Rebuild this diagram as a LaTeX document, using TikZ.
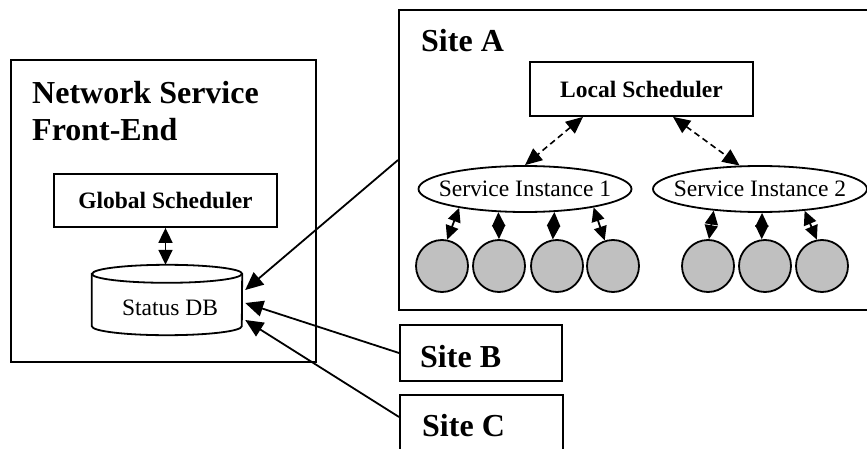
\documentclass[tikz,border=0pt]{standalone}
\usepackage{fontspec}
\setmainfont{Liberation Serif}
\usetikzlibrary{arrows.meta,shapes.geometric,calc}

\definecolor{workergray}{RGB}{192,192,192}

\tikzset{
  frame/.style={draw, line width=1.9pt, inner sep=0pt},
  bigtitle/.style={font=\fontsize{32}{37}\selectfont\bfseries, inner sep=0pt},
  schedbox/.style={draw, line width=1.8pt, inner sep=0pt, minimum width=223pt,
    minimum height=53pt, font=\fontsize{23.5}{28}\selectfont\bfseries},
  instance/.style={draw, ellipse, line width=1.8pt, inner sep=0pt, minimum height=46pt,
    font=\fontsize{23.5}{28}\selectfont},
  worker/.style={draw, circle, line width=1.8pt, fill=workergray, minimum size=52pt, inner sep=0pt},
  report/.style={line width=1.8pt, -{Triangle[length=18pt,width=16pt]}},
  duplex/.style={line width=1.8pt, {Triangle[length=14pt,width=13pt]}-{Triangle[length=14pt,width=13pt]}},
  control/.style={line width=1.6pt, dash pattern=on 6pt off 4pt,
    {Triangle[length=17pt,width=15pt]}-{Triangle[length=17pt,width=15pt]}},
}

\begin{document}
\begin{tikzpicture}[x=1pt,y=1pt]
\useasboundingbox (0,0) rectangle (867,448);
\clip (0,0) rectangle (867,448);

% ---- front end ----
\node[frame, minimum width=305pt, minimum height=302pt] (fe) at (163.5,237) {};
\node[bigtitle, anchor=north west, align=left] (fetitle) at (32,367) {Network Service\\Front-End};
\node[schedbox] (gsched) at (165.5,247.5) {Global Scheduler};

% status database (cylinder)
\node[minimum width=150pt, minimum height=70pt, inner sep=0pt] (db) at (167,148) {};
\draw[line width=1.8pt, fill=white]
  ($(db.north west)+(0,-9)$) -- ($(db.south west)+(0,9)$)
  arc[start angle=180, end angle=360, x radius=75, y radius=9]
  -- ($(db.north east)+(0,-9)$)
  arc[start angle=0, end angle=180, x radius=75, y radius=9] -- cycle;
\draw[line width=1.8pt] ($(db.north west)+(0,-9)$)
  arc[start angle=180, end angle=360, x radius=75, y radius=9];
\node[font=\fontsize{23.5}{28}\selectfont, inner sep=0pt, anchor=base] (dblabel) at (170,133) {Status DB};

\draw[duplex, {Triangle[length=15pt,width=14pt]}-{Triangle[length=15pt,width=14pt]}]
  (gsched.south) -- (gsched.south |- db.north);

% ---- site A ----
\node[frame, minimum width=476pt, minimum height=300pt] (siteA) at (637,288) {};
\node[bigtitle, anchor=base west] (siteAtitle) at (421,396) {Site A};
\node[schedbox, minimum height=54pt] (ls) at (641.5,359) {Local Scheduler};
\node[instance, minimum width=213pt] (si1) at (525,259) {\makebox[0pt]{Service Instance 1}};
\node[instance, minimum width=214pt] (si2) at (760,259) {\makebox[0pt]{Service Instance 2}};

\draw[control] ([xshift=-58.5pt]ls.south) -- (si1.north);
\draw[control] ([xshift=31.5pt]ls.south) -- (si2.131.5);

\foreach \i/\x in {1/442, 2/499, 3/557, 4/613, 5/708, 6/765, 7/822}
  \node[worker] (c\i) at (\x,182) {};

\draw[duplex] (si1.-164) -- (c1.79);
\draw[duplex] (si1.-139) -- (c2.90);
\draw[duplex] (si1.-38) -- (c3.99);
\draw[duplex] (si1.-15) -- (c4.108);
\draw[duplex] (si2.-155) -- (c5.88);
\draw[duplex] (si2.-85) -- (c6.97);
\draw[duplex] (si2.-26) -- (c7.101);

% ---- sites B and C ----
\node[frame, minimum width=162pt, minimum height=56pt] (siteB) at (481,95) {};
\node[bigtitle, anchor=base west] (siteBtitle) at (420,81) {Site B};
\node[frame, minimum width=163pt, minimum height=56pt] (siteC) at (481.5,25) {};
\node[bigtitle, anchor=base west] (siteCtitle) at (422,12) {Site C};

% status reports into the database
\draw[report] (siteA.west) -- ($(db.east)+(3,10)$);
\draw[report] (siteB.west) -- ($(db.east)+(3,-3)$);
\draw[report] ([yshift=6pt]siteC.west) -- ($(db.east)+(3,-20)$);
\end{tikzpicture}
\end{document}
